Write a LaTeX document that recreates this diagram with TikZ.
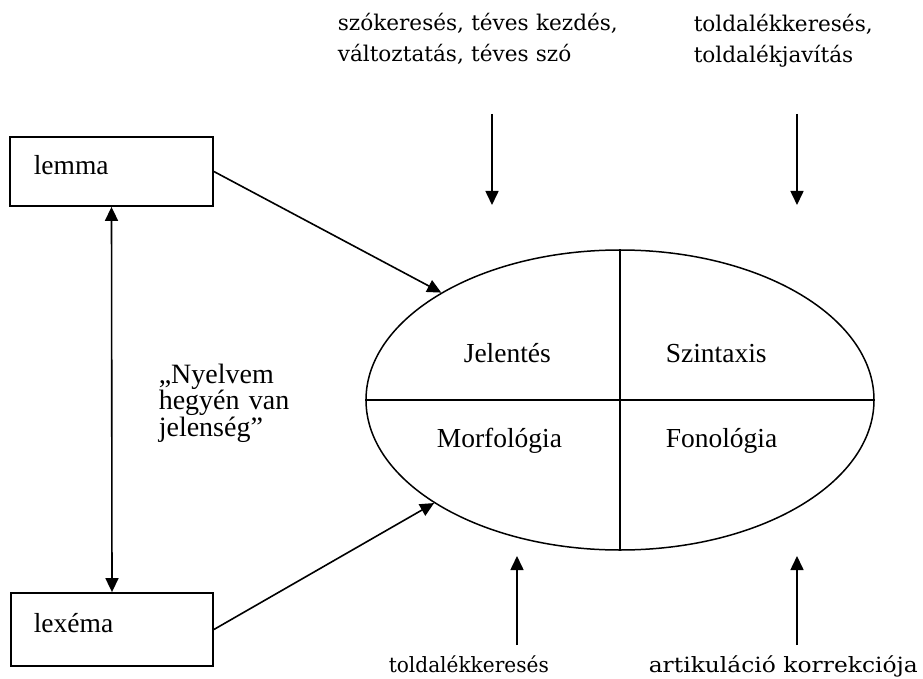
\documentclass[tikz,border=0pt]{standalone}
\usepackage{fontspec}
\usepackage{graphicx}
\setmainfont{Liberation Serif}
\newfontfamily\dejaserif{DejaVu Serif}
\usetikzlibrary{arrows.meta,shapes.geometric}
\begin{document}
\begin{tikzpicture}[x=1pt,y=-1pt,line width=1.6pt,
  tip/.style={-{Triangle[length=14pt,width=13pt]}},
  dtip/.style={{Triangle[length=14pt,width=13pt]}-{Triangle[length=14pt,width=13pt]}},
  box/.style={draw,line width=1.8pt,inner sep=0pt},
  lbl/.style={font=\fontsize{27.5}{30}\selectfont,inner sep=0pt,anchor=base west},
  toptxt/.style={font=\dejaserif\fontsize{21.6}{31}\selectfont,inner sep=0pt,anchor=base west,text width=320pt,align=left},
  bottxt/.style={font=\dejaserif\fontsize{21}{24}\selectfont,inner sep=0pt,anchor=base west}]
\useasboundingbox (0,0) rectangle (923,679);
% boxes
\node[box,minimum width=203pt,minimum height=69pt] (lemma) at (111.5,171.5) {};
\node[box,minimum width=202pt,minimum height=73pt] (lexema) at (112,629.5) {};
\node[lbl] (lemmat) at (33,175) {lemma};
\node[lbl] (lexemat) at (33,632) {lexéma};
% ellipse
\node[draw,ellipse,line width=1.5pt,minimum width=508pt,minimum height=300pt,inner sep=0pt] (ell) at (620,400) {};
\draw[line width=1.5pt] (ell.north) -- (ell.south);
\draw[line width=1.5pt] (ell.west) -- (ell.east);
\node[lbl] (jel) at (463,362) {Jelentés};
\node[lbl] (szi) at (665,362) {Szintaxis};
\node[lbl] (mor) at (436,447) {Morfológia};
\node[lbl] (fon) at (665,447) {Fonológia};
% connectors
\draw[dtip] (lemma.south) -- (lexema.north);
\draw[tip] (lemma.east) -- (ell.149.7);
\draw[tip] (lexema.east) -- (ell.209.8);
% quote
\node[inner sep=0pt,anchor=base west,text width=160pt,align=left,font=\fontsize{28}{25.5}\selectfont] (quote) at (158,383) {„Nyelvem\\hegyén van\\jelenség”};
% top texts and arrows
\node[toptxt] (t1) at (337,31) {szókeresés, téves kezdés,\\változtatás, téves szó};
\node[toptxt] (t2) at (693,32) {toldalékkeresés,\\toldalékjavítás};
\coordinate (d1a) at (492,114); \coordinate (d1b) at (492,205);
\coordinate (d2a) at (797,114); \coordinate (d2b) at (797,205);
\draw[tip] (d1a) -- (d1b);
\draw[tip] (d2a) -- (d2b);
% bottom texts and arrows
\coordinate (u1a) at (517,645); \coordinate (u1b) at (517,556);
\coordinate (u2a) at (797,645); \coordinate (u2b) at (797,556);
\draw[tip] (u1a) -- (u1b);
\draw[tip] (u2a) -- (u2b);
\node[bottxt] (b1) at (388,672) {\resizebox{160pt}{\height}{toldalékkeresés}};
\node[bottxt] (b2) at (648,672) {\resizebox{269pt}{\height}{artikuláció korrekciója}};
\end{tikzpicture}
\end{document}
